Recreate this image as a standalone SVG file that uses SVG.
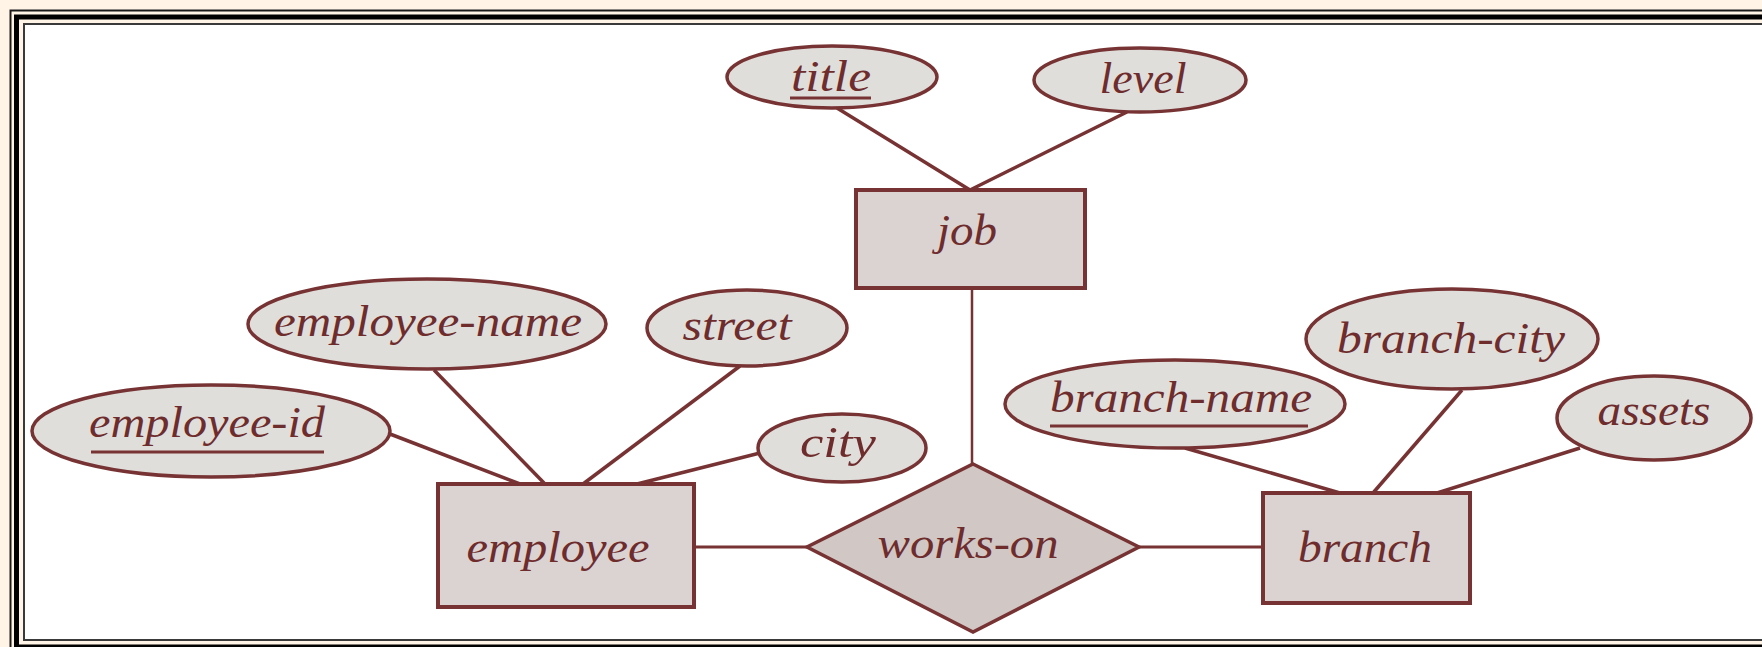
<svg xmlns="http://www.w3.org/2000/svg" width="1762" height="647" viewBox="0 0 1762 647">
<style>
.ent{fill:#DBD3D2;stroke:#773333;stroke-width:4}
.rel{fill:#D1C8C6;stroke:#773333;stroke-width:3.5}
.att{fill:#E0DEDB;stroke:#773333;stroke-width:3.5}
.ln{stroke:#773333;stroke-width:3.5;fill:none}
.ul{stroke:#773333;stroke-width:3}
text{font-family:"Liberation Serif",serif;font-style:italic;font-size:44px;fill:#6E2C2C;text-anchor:middle}
</style>
<rect x="0" y="0" width="1762" height="647" fill="#FFF4E6"/>
<g id="frame" fill="none">
<rect x="10.5" y="10.5" width="1800" height="640" stroke="#1a1a1a" stroke-width="2"/>
<rect x="16.5" y="17" width="1800" height="630" stroke="#000" stroke-width="5"/>
<rect x="24" y="24" width="1800" height="616" fill="#FFFFFF" stroke="#3a3a3a" stroke-width="2"/>
</g>
<g id="connectors">
<line class="ln" x1="837" y1="108" x2="970" y2="190"/>
<line class="ln" x1="1127" y1="112" x2="970" y2="190"/>
<line class="ln" x1="972" y1="288" x2="972" y2="464" style="stroke-width:2.5"/>
<line class="ln" x1="694" y1="547" x2="807" y2="547" style="stroke-width:3"/>
<line class="ln" x1="1139" y1="547" x2="1263" y2="547" style="stroke-width:3"/>
<line class="ln" x1="390" y1="434" x2="520" y2="484"/>
<line class="ln" x1="434" y1="370" x2="545" y2="484"/>
<line class="ln" x1="740" y1="366" x2="583" y2="484"/>
<line class="ln" x1="760" y1="453" x2="637" y2="484"/>
<line class="ln" x1="1185" y1="448" x2="1340" y2="493"/>
<line class="ln" x1="1462" y1="390" x2="1373" y2="493"/>
<line class="ln" x1="1580" y1="448" x2="1437" y2="493"/>
</g>
<g id="title">
<ellipse class="att" cx="832" cy="77" rx="105" ry="31"/>
<text x="831" y="91" textLength="80" lengthAdjust="spacingAndGlyphs">title</text>
<line class="ul" x1="790" y1="98" x2="871" y2="98"/>
</g>
<g id="level">
<ellipse class="att" cx="1140" cy="80" rx="106" ry="32"/>
<text x="1143" y="93" textLength="87" lengthAdjust="spacingAndGlyphs">level</text>
</g>
<g id="job">
<rect class="ent" x="856" y="190" width="229" height="98"/>
<text x="967" y="245" textLength="60" lengthAdjust="spacingAndGlyphs">job</text>
</g>
<g id="employee-name">
<ellipse class="att" cx="427" cy="324" rx="179" ry="45"/>
<text x="428" y="336" textLength="308" lengthAdjust="spacingAndGlyphs">employee-name</text>
</g>
<g id="street">
<ellipse class="att" cx="747" cy="328" rx="100" ry="38"/>
<text x="737" y="340" textLength="109" lengthAdjust="spacingAndGlyphs">street</text>
</g>
<g id="employee-id">
<ellipse class="att" cx="211" cy="431" rx="179" ry="46"/>
<text x="207" y="437" textLength="236" lengthAdjust="spacingAndGlyphs">employee-id</text>
<line class="ul" x1="91" y1="452" x2="324" y2="452"/>
</g>
<g id="city">
<ellipse class="att" cx="842" cy="448" rx="84" ry="34"/>
<text x="838" y="457" textLength="76" lengthAdjust="spacingAndGlyphs">city</text>
</g>
<g id="employee">
<rect class="ent" x="438" y="484" width="256" height="123"/>
<text x="558" y="562" textLength="183" lengthAdjust="spacingAndGlyphs">employee</text>
</g>
<g id="works-on">
<polygon class="rel" points="973,464 1139,547 973,632 807,547"/>
<text x="968" y="558" textLength="181" lengthAdjust="spacingAndGlyphs">works-on</text>
</g>
<g id="branch-name">
<ellipse class="att" cx="1175" cy="404" rx="170" ry="44"/>
<text x="1181" y="412" textLength="262" lengthAdjust="spacingAndGlyphs">branch-name</text>
<line class="ul" x1="1050" y1="426" x2="1308" y2="426"/>
</g>
<g id="branch-city">
<ellipse class="att" cx="1452" cy="339" rx="146" ry="50"/>
<text x="1451" y="353" textLength="228" lengthAdjust="spacingAndGlyphs">branch-city</text>
</g>
<g id="assets">
<ellipse class="att" cx="1654" cy="418" rx="97" ry="42"/>
<text x="1654" y="425" textLength="113" lengthAdjust="spacingAndGlyphs">assets</text>
</g>
<g id="branch">
<rect class="ent" x="1263" y="493" width="207" height="110"/>
<text x="1365" y="562" textLength="134" lengthAdjust="spacingAndGlyphs">branch</text>
</g>
</svg>
